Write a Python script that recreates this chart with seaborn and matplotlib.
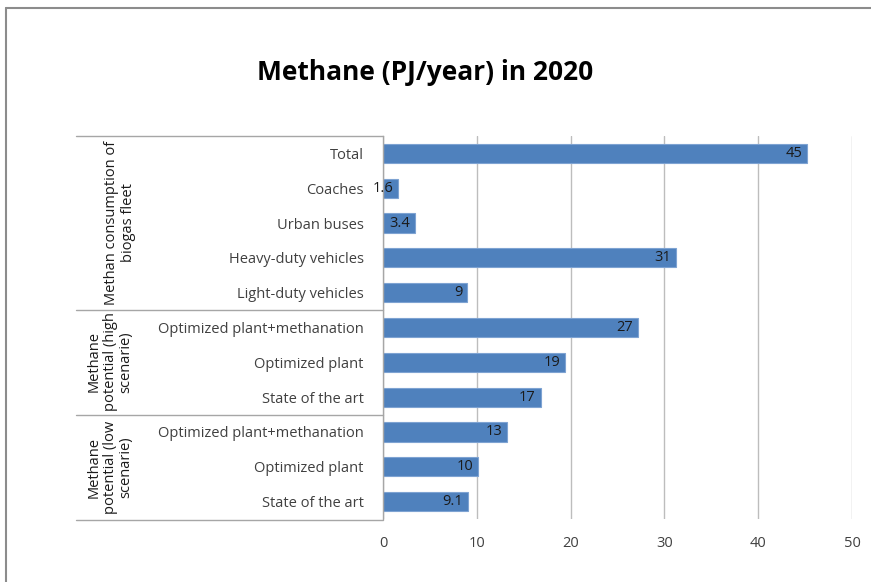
import matplotlib
matplotlib.use("Agg")
import matplotlib.pyplot as plt
import seaborn as sns
import pandas as pd
from matplotlib.lines import Line2D

categories = ["Total", "Coaches", "Urban buses", "Heavy-duty vehicles", "Light-duty vehicles",
              "Optimized plant+methanation", "Optimized plant", "State of the art",
              "Optimized plant+methanation", "Optimized plant", "State of the art"]
values = [45.2, 1.6, 3.4, 31.2, 8.95, 27.2, 19.4, 16.8, 13.2, 10.1, 9.05]
value_labels = ["45", "1.6", "3.4", "31", "9", "27", "19", "17", "13", "10", "9.1"]
groups = ["Methan consumption of\nbiogas fleet",
          "Methane\npotential (high\nscenarie)",
          "Methane\npotential (low\nscenarie)"]
group_sizes = [5, 3, 3]
x_ticks = [0, 10, 20, 30, 40, 50]

sns.set_theme(style="white")
plt.rcParams['font.family'] = ['Open Sans', 'DejaVu Sans']

W, H = 871, 582
fig = plt.figure(figsize=(W / 100, H / 100), dpi=100)
ax = fig.add_axes([383 / W, 1 - 519 / H, (852 - 383) / W, (519 - 136) / H])

group_of = []
for g, n in zip(groups, group_sizes):
    group_of += [g] * n
keys = [f"{g}|{c}" for g, c in zip(group_of, categories)]
df = pd.DataFrame({"key": keys, "val": values})
sns.barplot(data=df, y="key", x="val", orient="h", order=keys, color="#4F81BD", saturation=1,
            width=0.55, edgecolor="#7EA3D2", linewidth=0.8, ax=ax)

for patch, lab in zip(ax.patches, value_labels):
    xe = patch.get_x() + patch.get_width()
    yc = patch.get_y() + patch.get_height() / 2
    ax.text(xe - 0.5, yc, lab, ha="right", va="center", fontsize=10.5, color="#1a1a1a")

ax.set_xlim(0, 50)
ax.set_xticks(x_ticks)
ax.set_xticklabels([str(t) for t in x_ticks], fontsize=10.5, color="#404040")
ax.set_yticks(range(len(categories)))
ax.set_yticklabels(categories)
ax.set_ylabel("")
ax.set_xlabel("")
ax.tick_params(axis="y", labelsize=10.5, colors="#404040", length=0, pad=14)
ax.tick_params(axis="x", length=0, pad=12)
ax.grid(axis="x", color="#BDBDBD", linewidth=1)
ax.set_axisbelow(True)
for s in ["top", "right", "bottom"]:
    ax.spines[s].set_visible(False)
ax.spines["left"].set_color("#A6A6A6")
ax.spines["left"].set_linewidth(1)

# Title
fig.text(425 / W, 1 - 72 / H, "Methane (PJ/year) in 2020", ha="center", va="center",
         fontsize=19, fontweight="bold", color="#000000")

def fx(px):
    return px / W

def fy(py):
    return 1 - py / H

# Category group box lines
for yy in [136, 310, 415, 520]:
    fig.add_artist(Line2D([fx(76), fx(383)], [fy(yy), fy(yy)], color="#A6A6A6", linewidth=1))

# Group labels
group_pos = [(120, 223), (110, 362), (110, 467)]
for g, (gx, gy) in zip(groups, group_pos):
    fig.text(fx(gx), fy(gy), g, rotation=90, ha="center", va="center", fontsize=10.5,
             color="#1a1a1a", linespacing=1.1, multialignment="center")

# Outer chart border
fig.add_artist(Line2D([fx(6), fx(6)], [fy(8), fy(600)], color="#8C8C8C", linewidth=1.5))
fig.add_artist(Line2D([fx(6), fx(900)], [fy(8), fy(8)], color="#8C8C8C", linewidth=1.5))

fig.savefig("out.png", dpi=100)
